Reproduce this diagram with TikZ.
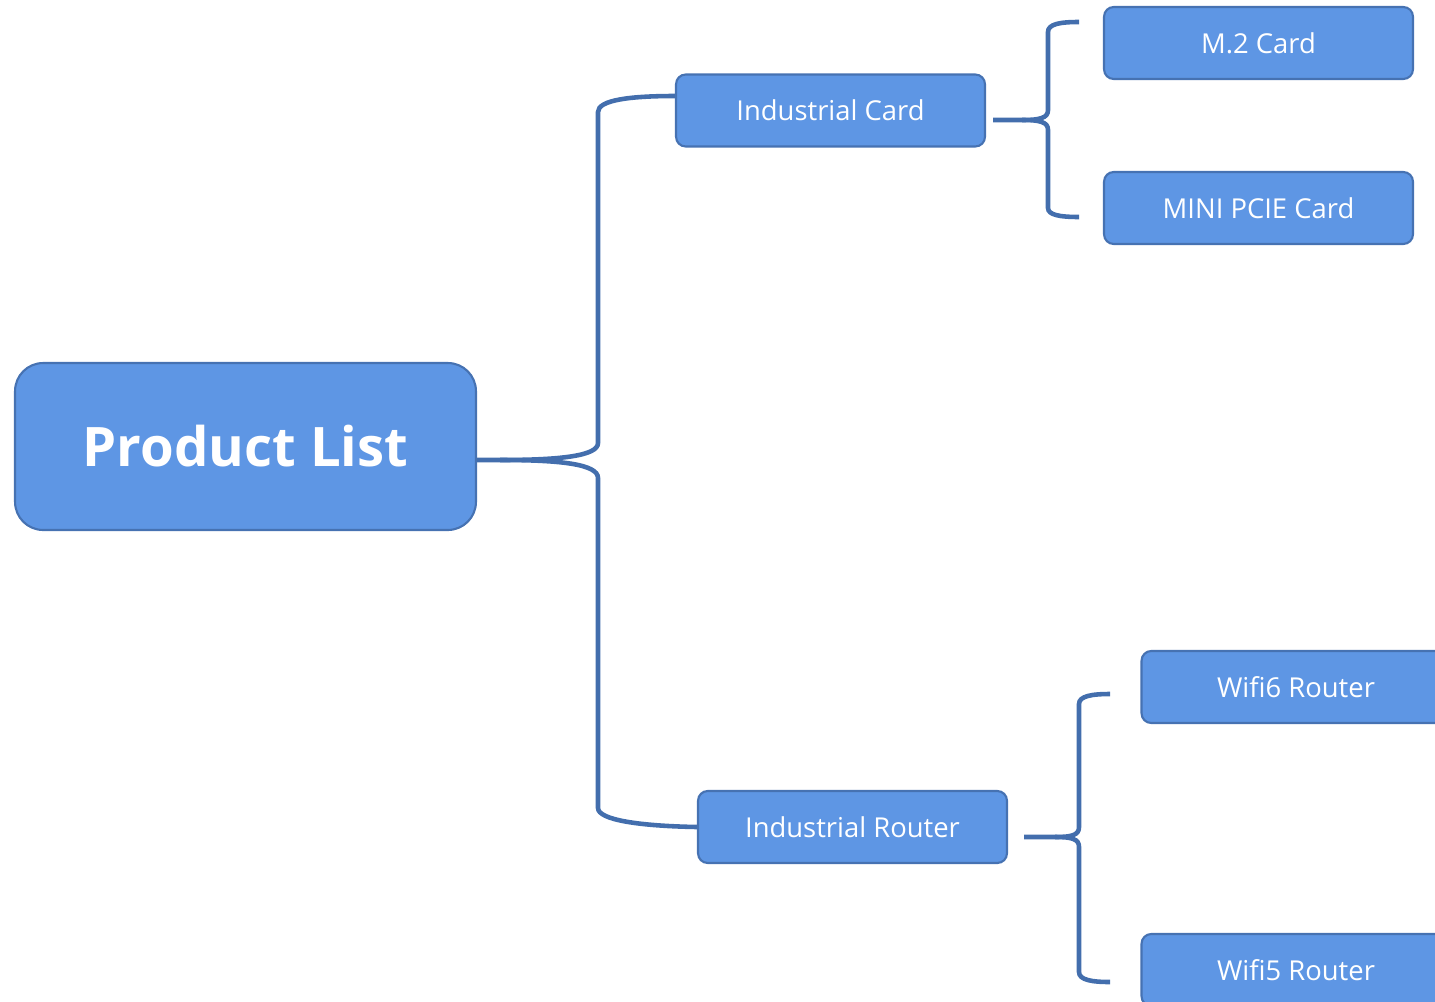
\documentclass[tikz,border=0pt]{standalone}
\usepackage{fontspec}
\setmainfont{Open Sans}
\definecolor{boxfill}{RGB}{94,150,228}
\definecolor{boxline}{RGB}{70,114,178}
\definecolor{linkcol}{RGB}{67,110,173}
\begin{document}
\begin{tikzpicture}[x=0.02cm, y=-0.02cm,
        box/.style={draw=boxline, line width=1.2pt, fill=boxfill, rounded corners=5.5pt,
            text=white, minimum width=6.18cm, minimum height=1.44cm,
            font=\fontsize{15.6}{18}\selectfont},
        link/.style={draw=linkcol, line width=2.6pt}]
        \useasboundingbox (0,0) rectangle (1435,1001);
        \node[box, minimum width=9.22cm, minimum height=3.34cm, rounded corners=16pt,
            font=\fontsize{31}{36}\selectfont\bfseries] (root) at (245.5,446.5) {Product List};
        \node[box] (card) at (830.5,110.5) {Industrial Card};
        \node[box] (router) at (852.5,827) {Industrial Router};
        \foreach \n/\x/\y/\t in {m2/1258.5/43/M.2 Card, pcie/1258.5/208/MINI PCIE Card,
                wifi6/1296/687/Wifi6 Router, wifi5/1296/970/Wifi5 Router} {
            \node[box] (\n) at (\x,\y) {\t};
        }
        \coordinate (m2-tip) at (1079,22);
        \coordinate (pcie-tip) at (1079,217);
        \coordinate (wifi6-tip) at (1110,694);
        \coordinate (wifi5-tip) at (1110,982);
        % root to second level
        \path[link] (root.east |- 0,460) -- (500,460)
            .. controls (560,460) and (598,456) .. (598,443) -- (598,112)
            .. controls (598,100) and (630,96) .. (card.west |- 0,96);
        \path[link] (500,460)
            .. controls (560,460) and (598,464) .. (598,478) -- (598,808)
            .. controls (598,820) and (640,826) .. (router.west);
        % industrial card bracket
        \path[link] (993,120) -- (1022,120)
            .. controls (1040,120) and (1048,118) .. (1048,110) -- (1048,32)
            .. controls (1048,24) and (1060,22) .. (m2-tip);
        \path[link] (1022,120)
            .. controls (1040,120) and (1048,122) .. (1048,130) -- (1048,208)
            .. controls (1048,215) and (1060,217) .. (pcie-tip);
        % industrial router bracket
        \path[link] (1024,837) -- (1055,837)
            .. controls (1072,837) and (1079,835) .. (1079,827) -- (1079,704)
            .. controls (1079,696) and (1092,694) .. (wifi6-tip);
        \path[link] (1055,837)
            .. controls (1072,837) and (1079,839) .. (1079,847) -- (1079,972)
            .. controls (1079,980) and (1092,982) .. (wifi5-tip);
\end{tikzpicture}
\end{document}
